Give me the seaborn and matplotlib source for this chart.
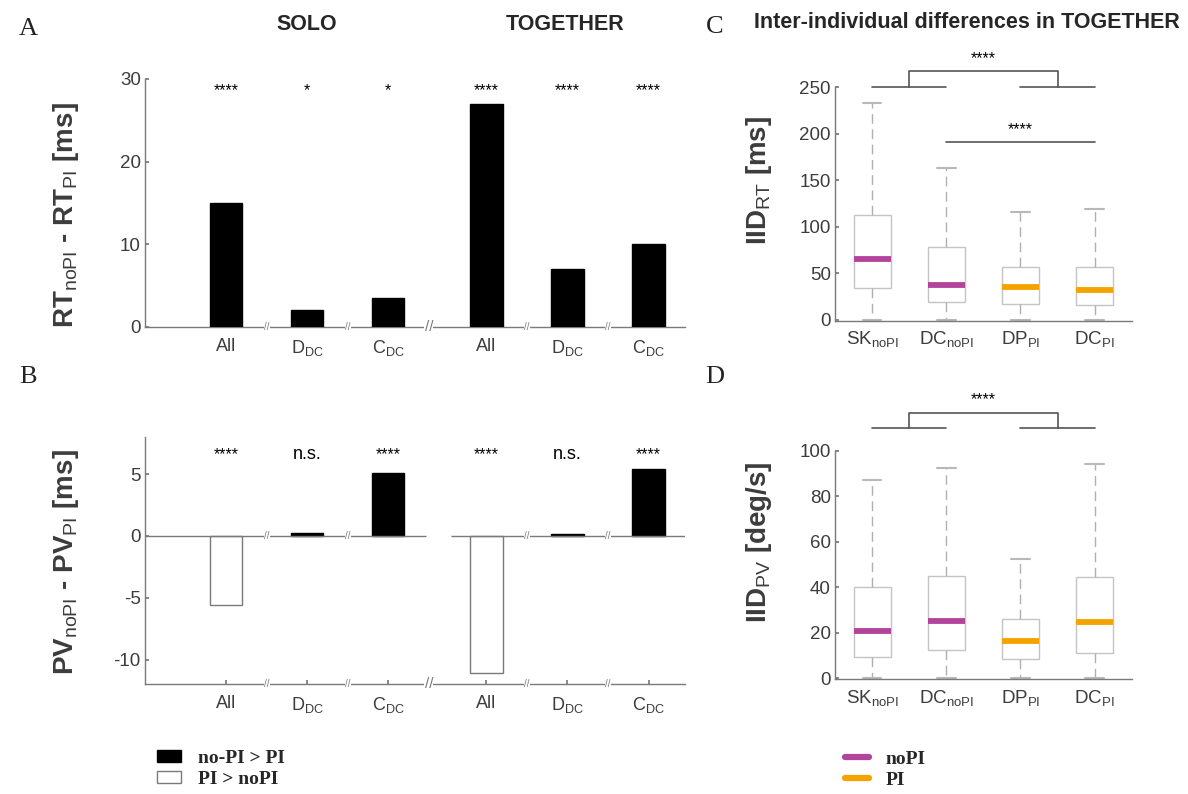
import numpy as np
import pandas as pd
import seaborn as sns
import matplotlib.pyplot as plt
from matplotlib.patches import Patch
from matplotlib.lines import Line2D

# ---------------- data: panels A and B (difference bars) ----------------
bar_labels = ["All", "D$_{DC}$", "C$_{DC}$", "All", "D$_{DC}$", "C$_{DC}$"]
bar_groups = ["SOLO", "SOLO", "SOLO", "TOGETHER", "TOGETHER", "TOGETHER"]
rt_diff = [15.0, 2.0, 3.5, 27.0, 7.0, 10.0]
pv_diff = [-5.6, 0.2, 5.1, -11.1, 0.15, 5.4]
rt_sig = ["****", "*", "*", "****", "****", "****"]
pv_sig = ["****", "n.s.", "****", "****", "n.s.", "****"]
bar_legend = ["no-PI > PI", "PI > noPI"]

# ---------------- data: panels C and D (five-number summaries) ----------------
# [lower whisker, Q1, median, Q3, upper whisker]
box_labels = ["SK$_{noPI}$", "DC$_{noPI}$", "DP$_{PI}$", "DC$_{PI}$"]
box_cond = ["noPI", "noPI", "PI", "PI"]
rt_sk_nopi = [0, 34, 65.5, 113, 233]
rt_dc_nopi = [0, 19, 37.5, 78.5, 163]
rt_dp_pi = [0, 17, 35, 56.5, 116]
rt_dc_pi = [0, 16, 32, 57, 119]
pv_sk_nopi = [0, 9.6, 20.8, 40.3, 87.3]
pv_dc_nopi = [0, 12.6, 25.3, 45.1, 92.5]
pv_dp_pi = [0, 8.6, 16.3, 26.0, 52.5]
pv_dc_pi = [0, 11.3, 24.6, 44.7, 94.3]
box_legend = ["noPI", "PI"]

# ---------------- style ----------------
W, H = 1188, 794
AXIS_GREY = "#7a7a7a"
TEXT_GREY = "#3c3c3c"
BOX_GREY = "#c4c4c4"
MAGENTA = "#b2449c"
ORANGE = "#f5a300"
cond_colors = {"noPI": MAGENTA, "PI": ORANGE}

sns.set_theme(style="ticks")
plt.rcParams["font.family"] = ["Liberation Sans", "DejaVu Sans"]
plt.rcParams["mathtext.default"] = "regular"
plt.rcParams["mathtext.fontset"] = "custom"
plt.rcParams["mathtext.rm"] = "Liberation Sans"
plt.rcParams["axes.unicode_minus"] = False
plt.rcParams["axes.edgecolor"] = AXIS_GREY
plt.rcParams["axes.linewidth"] = 1.0
plt.rcParams["xtick.color"] = AXIS_GREY
plt.rcParams["ytick.color"] = AXIS_GREY
plt.rcParams["xtick.labelcolor"] = TEXT_GREY
plt.rcParams["ytick.labelcolor"] = TEXT_GREY
plt.rcParams["xtick.direction"] = "in"
plt.rcParams["ytick.direction"] = "in"


def px(x, y):
    """pixel position (from top-left) -> figure fraction"""
    return x / W, 1 - y / H


def rect(left, top, right, bottom):
    return [left / W, 1 - bottom / H, (right - left) / W, (bottom - top) / H]


fig = plt.figure(figsize=(W / 100, H / 100), dpi=100)
ax_a = fig.add_axes(rect(145, 79, 685, 326.7))
ax_b = fig.add_axes(rect(145, 437, 685, 684.3))
ax_c = fig.add_axes(rect(835, 87.3, 1131.7, 320.7))
ax_d = fig.add_axes(rect(835, 450.7, 1131.7, 679.3))

# x positions of the bars (gap between SOLO and TOGETHER)
bar_x = [1, 2, 3, 4.21, 5.21, 6.21]
inner_breaks = [1.5, 2.5, 4.71, 5.71]
group_break = 3.5


def break_mark(ax, x, y, size):
    ax.text(x, y, "//", fontsize=size, ha="center", va="center", color=AXIS_GREY,
            bbox=dict(boxstyle="square,pad=0.02", fc="white", ec="none"),
            clip_on=False, zorder=6)


def bar_panel(ax, values, sig, ylim, yticks, sig_y, ylabel, label_y):
    sns.barplot(x=bar_x, y=values, native_scale=True, color="black", saturation=1,
                width=0.4, errorbar=None, ax=ax, zorder=3)
    for patch, v in zip(ax.patches, values):
        if v < 0:
            patch.set_facecolor("white")
            patch.set_edgecolor(AXIS_GREY)
        else:
            patch.set_edgecolor("black")
        patch.set_linewidth(1.0)
    ax.set_xlim(0, 6.66)
    ax.set_ylim(*ylim)
    ax.set_yticks(yticks)
    ax.set_xticks(bar_x)
    ax.set_xticklabels(bar_labels)
    ax.tick_params(axis="x", length=3, labelsize=13, pad=8)
    ax.tick_params(axis="y", length=3, labelsize=13.5, pad=3)
    sns.despine(ax=ax)
    for x, s in zip(bar_x, sig):
        if s == "n.s.":
            ax.text(x, sig_y, s, ha="center", va="center", fontsize=13, color="black")
        else:
            ax.text(x, sig_y, s, ha="center", va="center", fontsize=11.5, color="black")
    ax.set_ylabel(ylabel, fontsize=20, fontweight="bold", color=TEXT_GREY)
    ax.yaxis.label.set_va("center")
    ax.yaxis.set_label_coords(-0.146, label_y)
    ax.set_xlabel("")


# ---- panel A ----
bar_panel(ax_a, rt_diff, rt_sig, (0, 30), [0, 10, 20, 30], 28.6,
          r"RT$_\mathrm{noPI}$ - RT$_\mathrm{PI}$ [ms]", 0.45)
for xb in inner_breaks:
    break_mark(ax_a, xb, 0, 7)
break_mark(ax_a, group_break, 0, 11)

# ---- panel B ----
bar_panel(ax_b, pv_diff, pv_sig, (-12, 8), [-10, -5, 0, 5], 6.6,
          r"PV$_\mathrm{noPI}$ - PV$_\mathrm{PI}$ [ms]", 0.495)
ax_b.hlines(0, 0, 3.46, color=AXIS_GREY, lw=1.0, zorder=4)
ax_b.hlines(0, 3.78, 6.66, color=AXIS_GREY, lw=1.0, zorder=4)
for xb in inner_breaks:
    break_mark(ax_b, xb, 0, 7)
    break_mark(ax_b, xb, -12, 7)
break_mark(ax_b, group_break, -12, 11)


# ---- panels C and D ----
def box_panel(ax, summaries, ylim, yticks, ylabel, label_y):
    df = pd.DataFrame({
        "group": np.repeat(box_labels, 5),
        "cond": np.repeat(box_cond, 5),
        "value": np.concatenate(summaries),
    })
    for cond in ["noPI", "PI"]:
        sns.boxplot(data=df[df["cond"] == cond], x="group", y="value", order=box_labels,
                    width=0.5, whis=np.inf, color="white", linecolor=BOX_GREY,
                    linewidth=1.0, showfliers=False, ax=ax,
                    medianprops=dict(color=cond_colors[cond], linewidth=4.2, solid_capstyle="butt"),
                    whiskerprops=dict(color="#b0b0b0", linestyle=(0, (7, 4))),
                    capprops=dict(color="#b8b8b8", linewidth=1.5))
    ax.set_xlim(-0.5, 3.5)
    ax.set_ylim(ylim[0] - ylim[1] * 0.004, ylim[1])
    ax.set_yticks(yticks)
    ax.tick_params(axis="x", length=0, labelsize=13.5, pad=6)
    ax.tick_params(axis="y", length=3, labelsize=13.5, pad=3)
    sns.despine(ax=ax)
    ax.set_xlabel("")
    ax.set_ylabel(ylabel, fontsize=20, fontweight="bold", color=TEXT_GREY)
    ax.yaxis.label.set_va("center")
    ax.yaxis.set_label_coords(-0.256, label_y)


def bracket(ax, y_low, y_top, y_star):
    kw = dict(color="#555555", lw=1.2, clip_on=False, zorder=5)
    ax.plot([0, 1], [y_low, y_low], **kw)
    ax.plot([2, 3], [y_low, y_low], **kw)
    ax.plot([0.5, 0.5, 2.5, 2.5], [y_low, y_top, y_top, y_low], **kw)
    ax.text(1.5, y_star, "****", ha="center", va="center", fontsize=11.5, color="black")


box_panel(ax_c, [rt_sk_nopi, rt_dc_nopi, rt_dp_pi, rt_dc_pi], (0, 250),
          [0, 50, 100, 150, 200, 250], r"IID$_\mathrm{RT}$ [ms]", 0.6)
bracket(ax_c, 250, 267.5, 281)
ax_c.plot([1, 3], [191.5, 191.5], color="#555555", lw=1.2, zorder=5)
ax_c.text(2, 205, "****", ha="center", va="center", fontsize=11.5, color="black")

box_panel(ax_d, [pv_sk_nopi, pv_dc_nopi, pv_dp_pi, pv_dc_pi], (0, 100),
          [0, 20, 40, 60, 80, 100], r"IID$_\mathrm{PV}$ [deg/s]", 0.6)
bracket(ax_d, 109.8, 116.6, 122.3)

# ---- titles and panel letters ----
fig.text(*px(307, 24), "SOLO", ha="center", va="center", fontsize=15.5, fontweight="bold")
fig.text(*px(565, 24), "TOGETHER", ha="center", va="center", fontsize=15.5, fontweight="bold")
fig.text(*px(967, 23), "Inter-individual differences in TOGETHER", ha="center",
         va="center", fontsize=15.5, fontweight="bold")
for letter, (lx, ly) in zip("ABCD", [(28, 29), (28, 377), (715, 27), (715, 377)]):
    fig.text(*px(lx, ly), letter, ha="center", va="center", fontsize=19,
             family="Liberation Serif", color="#222222")

# ---- legends ----
legend_font = dict(family="Liberation Serif", weight="bold", size=14)
fig.legend(handles=[Patch(facecolor="black", edgecolor="black"),
                    Patch(facecolor="white", edgecolor=AXIS_GREY)],
           labels=bar_legend, loc="upper left", bbox_to_anchor=px(157, 750),
           frameon=False, prop=legend_font, handlelength=1.25, handleheight=0.55,
           handletextpad=0.85, labelspacing=0.2, borderpad=0, borderaxespad=0)
fig.legend(handles=[Line2D([], [], color=MAGENTA, lw=4.5),
                    Line2D([], [], color=ORANGE, lw=4.5)],
           labels=box_legend, loc="upper left", bbox_to_anchor=px(845, 750),
           frameon=False, prop=legend_font, handlelength=1.25,
           handletextpad=0.85, labelspacing=0.2, borderpad=0, borderaxespad=0)

fig.savefig("out.png", dpi=100, facecolor="white")
